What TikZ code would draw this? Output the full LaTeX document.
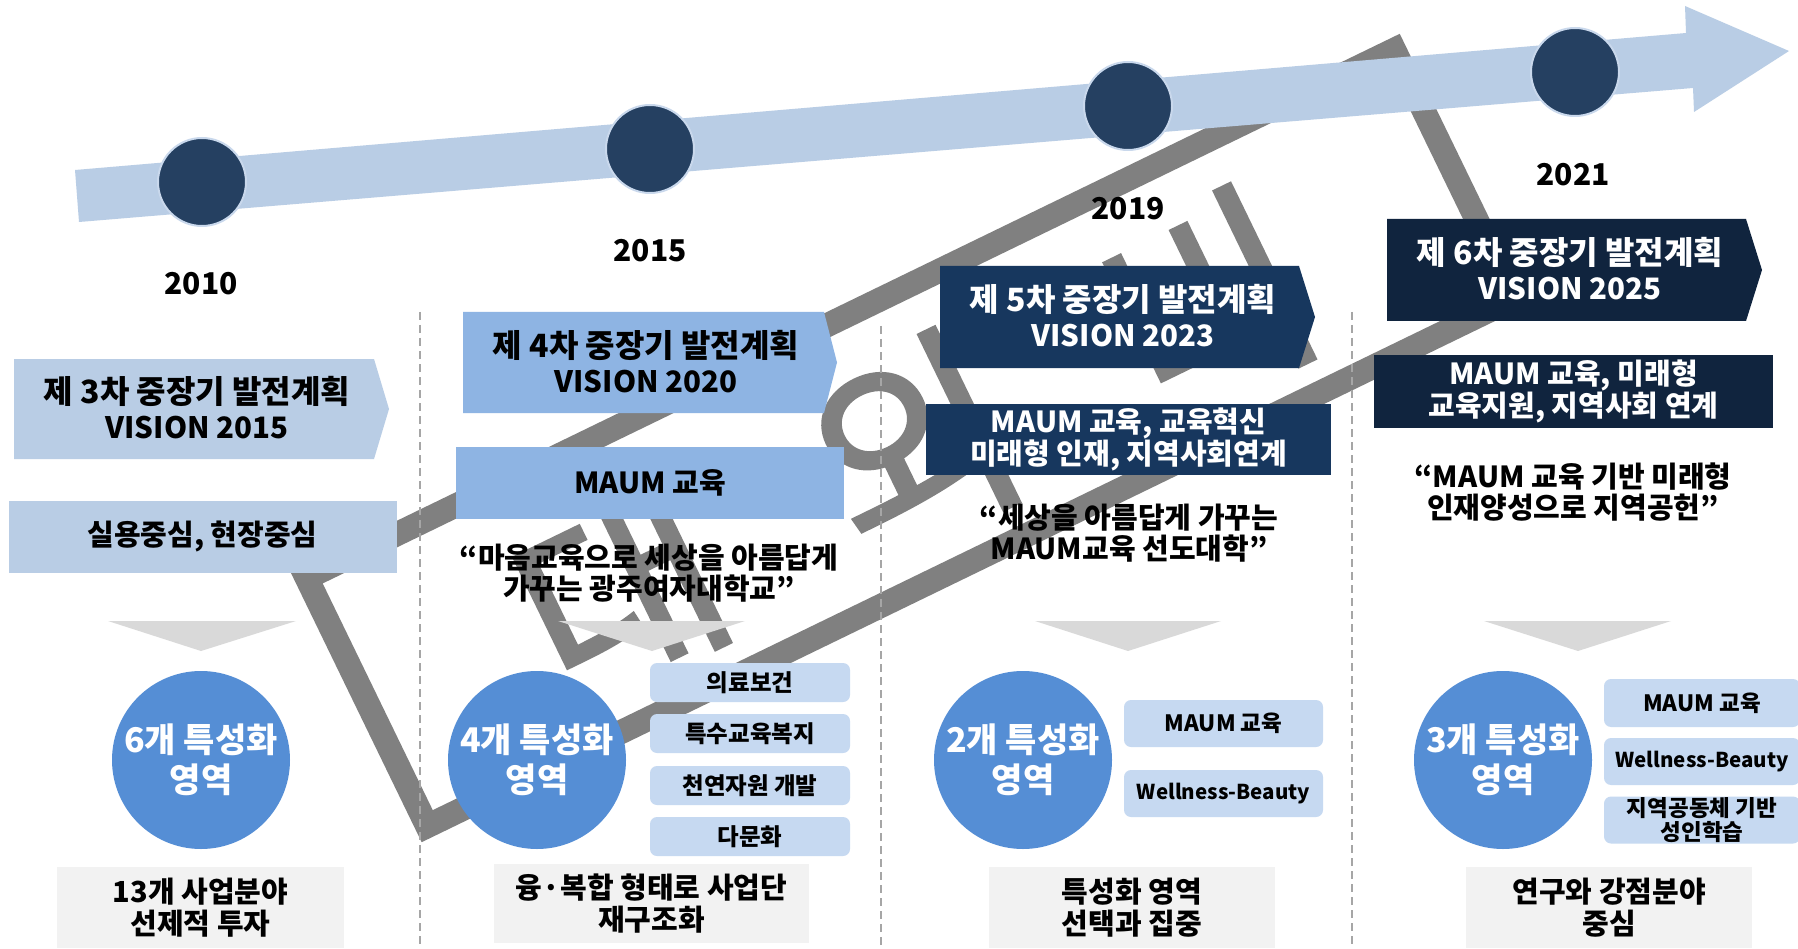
\documentclass[tikz,border=0pt]{standalone}
\usepackage{fontspec}
\setmainfont{Noto Sans CJK KR}
\newfontfamily\stampfont[FakeBold=1.5]{Noto Sans CJK KR}
\definecolor{bandc}{HTML}{B9CDE5}
\definecolor{dotc}{HTML}{254061}
\definecolor{dotedge}{HTML}{C9D8EC}
\definecolor{cA}{HTML}{B9CDE5}
\definecolor{cB}{HTML}{8EB4E3}
\definecolor{cC}{HTML}{17375E}
\definecolor{cD}{HTML}{10243E}
\definecolor{circc}{HTML}{558ED5}
\definecolor{smallc}{HTML}{C6D9F1}
\definecolor{bottomc}{HTML}{F2F2F2}
\definecolor{tric}{HTML}{D9D9D9}
\definecolor{stampc}{HTML}{808080}
\definecolor{sepc}{HTML}{A6A6A6}
\newcommand\visionline[1]{{\fontsize{29.5}{34}\selectfont #1}}
\begin{document}
\begin{tikzpicture}[x=1pt,y=-1pt,
  hdr/.style={align=center, inner sep=0, font=\bfseries\fontsize{32}{35}\selectfont},
  body/.style={align=center, inner sep=0, font=\bfseries\fontsize{29}{31}\selectfont},
  year/.style={inner sep=0, font=\bfseries\fontsize{30}{34}\selectfont},
  box/.style={rectangle, inner sep=0, align=center, font=\bfseries\fontsize{29}{31}\selectfont},
  smallbox/.style={rectangle, rounded corners=7pt, fill=smallc, inner sep=0, align=center, font=\bfseries\fontsize{23.5}{25}\selectfont},
  latinsmall/.style={font=\bfseries\fontsize{20.5}{24}\selectfont},
  bottombox/.style={rectangle, fill=bottomc, inner sep=0, align=center, font=\bfseries\fontsize{29}{32}\selectfont},
  bigcirc/.style={circle, fill=circc, minimum size=178pt, inner sep=0, align=center, text=white, font=\bfseries\fontsize{34}{40}\selectfont},
  dot/.style={circle, fill=dotc, draw=dotedge, line width=2pt, minimum size=88pt, inner sep=0},
  sepline/.style={draw=sepc, line width=1.5pt, dash pattern=on 8pt off 5pt},
  tri/.style={fill=tric}
]
\clip (0,0) rectangle (1798,949);
\fill[white] (0,0) rectangle (1798,949);

% stamp watermark
\begin{scope}[shift={(910.7,438)}, rotate=25.9]
  \draw[stampc, line width=24pt] (-604.5,-138) rectangle (604.5,138);
  \node[transform shape, inner sep=0, text=stampc, font=\stampfont\fontsize{215}{215}\selectfont] (stamptext) at (0,8) {대\hspace{130pt}외\hspace{130pt}비};
\end{scope}

% timeline band
\fill[bandc] (75,170) -- (1686,33) -- (1685,6) -- (1789,51) -- (1694,112) -- (1693,88) -- (79,222) -- cycle;
\node[dot] (d1) at (202,182) {};
\node[dot] (d2) at (650,149) {};
\node[dot] (d3) at (1128,106) {};
\node[dot] (d4) at (1575,72) {};

% years
\node[year] (y1) at (201,284) {2010};
\node[year] (y2) at (650,251) {2015};
\node[year] (y3) at (1128,209) {2019};
\node[year] (y4) at (1573,175) {2021};

% separators
\coordinate (s1t) at (420,312); \coordinate (s1b) at (420,949);
\coordinate (s2t) at (881,326); \coordinate (s2b) at (881,949);
\coordinate (s3t) at (1352,312); \coordinate (s3b) at (1352,949);
\draw[sepline] (s1t) -- (s1b);
\draw[sepline] (s2t) -- (s2b);
\draw[sepline] (s3t) -- (s3b);

% headers
\fill[cA] (14,359) -- (374,359) -- (389,409) -- (374,459) -- (14,459) -- cycle;
\node[hdr] (h1) at (197,408) {제 3차 중장기 발전계획\\\visionline{VISION 2015}};
\fill[cB] (463,312) -- (824,312) -- (837,362.5) -- (824,413) -- (463,413) -- cycle;
\node[hdr] (h2) at (646,362) {제 4차 중장기 발전계획\\\visionline{VISION 2020}};
\fill[cC] (940,266) -- (1299,266) -- (1315,317) -- (1299,368) -- (940,368) -- cycle;
\node[hdr, text=white] (h3) at (1123,316) {제 5차 중장기 발전계획\\\visionline{VISION 2023}};
\fill[cD] (1387,219) -- (1746,219) -- (1762,270) -- (1746,321) -- (1387,321) -- cycle;
\node[hdr, text=white] (h4) at (1570,269) {제 6차 중장기 발전계획\\\visionline{VISION 2025}};

% key boxes
\node[box, fill=cA, minimum width=388pt, minimum height=72pt] (b1) at (202.5,537) {실용중심, 현장중심};
\node[box, fill=cB, minimum width=388pt, minimum height=72pt] (b2) at (650,483) {MAUM 교육};
\node[box, fill=cC, text=white, minimum width=405pt, minimum height=71pt] (b3) at (1128.5,439.5) {MAUM 교육, 교육혁신\\미래형 인재, 지역사회연계};
\node[box, fill=cD, text=white, minimum width=399pt, minimum height=73pt] (b4) at (1573.5,391.5) {MAUM 교육, 미래형\\교육지원, 지역사회 연계};

% quotes
\node[body] (q2) at (649,573) {“마음교육으로 세상을 아름답게\\가꾸는 광주여자대학교”};
\node[body] (q3) at (1129,533) {“세상을 아름답게 가꾸는\\MAUM교육 선도대학”};
\node[body] (q4) at (1573,492) {“MAUM 교육 기반 미래형\\인재양성으로 지역공헌”};

% triangles
\fill[tri] (108,621) -- (296,621) -- (201,651) -- cycle;
\fill[tri] (558,621) -- (745,621) -- (652,651) -- cycle;
\fill[tri] (1035,621) -- (1221,621) -- (1128,651) -- cycle;
\fill[tri] (1484,621) -- (1671,621) -- (1578,651) -- cycle;

% big circles
\node[bigcirc] (c1) at (201,760) {6개 특성화\\영역};
\node[bigcirc] (c2) at (537,760) {4개 특성화\\영역};
\node[bigcirc] (c3) at (1023,760) {2개 특성화\\영역};
\node[bigcirc] (c4) at (1503,760) {3개 특성화\\영역};

% small boxes
\node[smallbox, minimum width=200pt, minimum height=39pt] (m21) at (750,682.5) {의료보건};
\node[smallbox, minimum width=200pt, minimum height=39pt] (m22) at (750,733.5) {특수교육복지};
\node[smallbox, minimum width=200pt, minimum height=39pt] (m23) at (750,785.5) {천연자원 개발};
\node[smallbox, minimum width=200pt, minimum height=39pt] (m24) at (750,836.5) {다문화};
\node[smallbox, latinsmall, font=\bfseries\fontsize{22.5}{24}\selectfont, minimum width=199pt, minimum height=47pt] (m31) at (1223.5,723.5) {MAUM 교육};
\node[smallbox, latinsmall, minimum width=199pt, minimum height=47pt] (m32) at (1223.5,793.5) {Wellness-Beauty};
\node[smallbox, font=\bfseries\fontsize{22.5}{24}\selectfont, minimum width=196pt, minimum height=48pt] (m41) at (1702,703) {MAUM 교육};
\node[smallbox, latinsmall, minimum width=196pt, minimum height=47pt] (m42) at (1702,761.5) {Wellness-Beauty};
\node[smallbox, font=\bfseries\fontsize{22.5}{24}\selectfont, minimum width=196pt, minimum height=47pt] (m43) at (1702,820) {지역공동체 기반\\성인학습};

% bottom boxes
\node[bottombox, minimum width=287pt, minimum height=81pt] (e1) at (200.5,907.5) {13개 사업분야\\선제적 투자};
\node[bottombox, minimum width=315pt, minimum height=79pt] (e2) at (651.5,903.5) {융·복합 형태로 사업단\\재구조화};
\node[bottombox, minimum width=286pt, minimum height=81pt] (e3) at (1132,907.5) {특성화 영역\\선택과 집중};
\node[bottombox, minimum width=286pt, minimum height=81pt] (e4) at (1609,907.5) {연구와 강점분야\\중심};
\end{tikzpicture}
\end{document}
